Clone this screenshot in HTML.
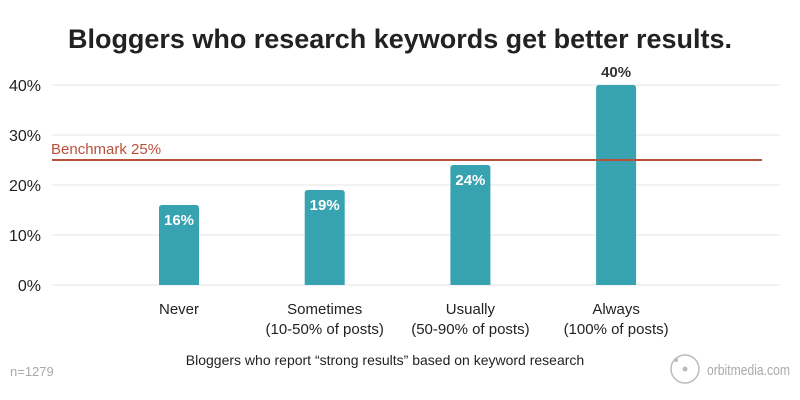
<!DOCTYPE html>
<html><head><meta charset="utf-8"><style>
body{margin:0;background:#fff;}
svg{display:block;font-family:"Liberation Sans",sans-serif;}
</style></head><body>
<svg id="chart" width="800" height="400" viewBox="0 0 800 400">
<text x="400" y="48" text-anchor="middle" font-size="27" font-weight="bold" fill="#222" textLength="664" lengthAdjust="spacingAndGlyphs">Bloggers who research keywords get better results.</text>
<g id="grid"></g><g id="bars"></g>
<text x="385" y="365" text-anchor="middle" font-size="14" fill="#222">Bloggers who report “strong results” based on keyword research</text>
<text x="10" y="376" font-size="13" fill="#aaa">n=1279</text>
<g>
<circle cx="685" cy="369" r="14" fill="none" stroke="#bbb" stroke-width="1.5"/>
<circle cx="685" cy="369" r="2.5" fill="#bbb"/>
<circle cx="676" cy="360" r="2" fill="#bbb"/>
<text x="707" y="375" font-size="15" fill="#aaa" textLength="83" lengthAdjust="spacingAndGlyphs">orbitmedia.com</text>
</g>
</svg>
<script>
const categories=["Never","Sometimes","Usually","Always"];
const subLabels=["","(10-50% of posts)","(50-90% of posts)","(100% of posts)"];
const values=[16,19,24,40];
const tickValues=[0,10,20,30,40];
const benchmark=25;
const NS="http://www.w3.org/2000/svg";
const y=v=>285-v*5;
const x=i=>179+i*145.7;
function mk(t,a,p){const e=document.createElementNS(NS,t);for(const k in a)e.setAttribute(k,a[k]);p.appendChild(e);return e;}
const grid=document.getElementById('grid'),bars=document.getElementById('bars');
tickValues.forEach(v=>{
 const l=mk('line',{x1:52,x2:780,y1:y(v),y2:y(v),stroke:'#e6e6e6','stroke-width':1},grid);
 
 
 const t=mk('text',{x:41,y:y(v)+6,'text-anchor':'end','font-size':16,fill:'#222'},grid);
 t.textContent=v+'%';
 
 
});
values.forEach((v,i)=>{
 const r=mk('path',{d:`M${x(i)-20},${y(0)}V${y(v)+3}q0,-3 3,-3h34q3,0 3,3V${y(0)}Z`,fill:'#38a3b0'},bars);
 
 
 const lab=(v>=30)?mk('text',{x:x(i),y:y(v)-8,'text-anchor':'middle','font-size':15,'font-weight':'bold',fill:'#333'},bars)
  :mk('text',{x:x(i),y:y(v)+20,'text-anchor':'middle','font-size':15,'font-weight':'bold',fill:'#fff'},bars);
 lab.textContent=v+'%';
 
 
 const c=mk('text',{x:x(i),y:314,'text-anchor':'middle','font-size':15,fill:'#222'},bars);
 c.textContent=categories[i];
 
 
 if(subLabels[i]){const s=mk('text',{x:x(i),y:334,'text-anchor':'middle','font-size':15,fill:'#222'},bars);
 s.textContent=subLabels[i];
 
 }
});
const bl=mk('line',{x1:52,x2:762,y1:y(benchmark),y2:y(benchmark),stroke:'#b9503b','stroke-width':2},bars);


const bt=mk('text',{x:51,y:y(benchmark)-6,'font-size':15,fill:'#b9503b'},bars);
bt.textContent='Benchmark '+benchmark+'%';


</script>
</body></html>
